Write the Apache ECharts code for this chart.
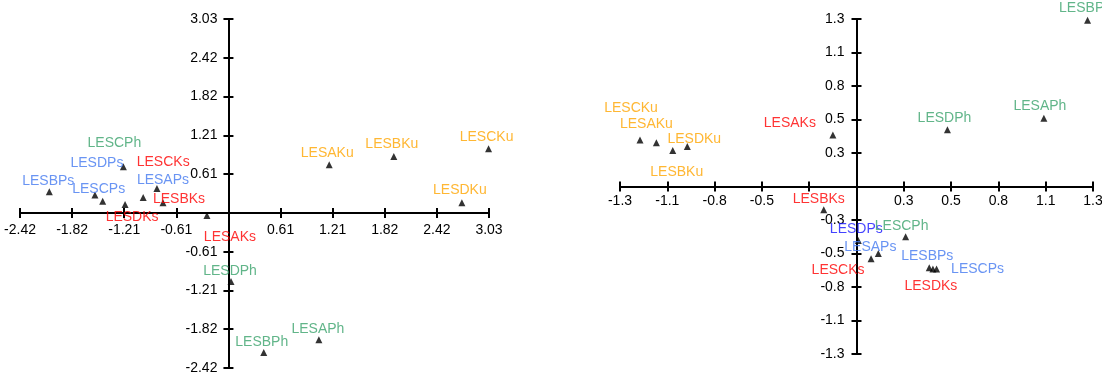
<!DOCTYPE html>
<html><head><meta charset="utf-8">
<script src="https://cdn.jsdelivr.net/npm/echarts@6/dist/echarts.min.js"></script>
<style>html,body{margin:0;padding:0;background:#fff}#c{width:1102px;height:381px}</style>
</head><body><div id="c"></div>
<script>
// ---- data ----
const names  = ['LESAKu','LESBKu','LESCKu','LESDKu','LESAKs','LESBKs','LESCKs','LESDKs',
                'LESAPs','LESBPs','LESCPs','LESDPs','LESAPh','LESBPh','LESCPh','LESDPh'];
const groups = ['Ku','Ku','Ku','Ku','Ks','Ks','Ks','Ks','Ps','Ps','Ps','Ps','Ph','Ph','Ph','Ph'];

const leftX  = [1.17, 1.92, 3.02, 2.71, -0.25, -0.76, -0.99, -1.20, -0.83, -2.08, -1.46, -1.55, 1.05, 0.41, -1.22, 0.03];
const leftY  = [0.75, 0.88, 1.00, 0.16, -0.04, 0.16, 0.24, 0.13, 0.38, 0.33, 0.18, 0.28, -1.98, -2.18, 0.72, -1.07];

const rightX = [-1.10, -1.01, -1.19, -0.93, -0.13, -0.18, 0.08, 0.42, 0.12, 0.40, 0.44, 0.01, 1.03, 1.27, 0.27, 0.50];
const rightY = [0.34, 0.28, 0.36, 0.31, 0.40, -0.18, -0.56, -0.64, -0.52, -0.63, -0.64, -0.42, 0.53, 1.29, -0.39, 0.44];

const leftXTickLabels  = ['-2.42','-1.82','-1.21','-0.61','','0.61','1.21','1.82','2.42','3.03'];
const leftYTickLabels  = ['-2.42','-1.82','-1.21','-0.61','','0.61','1.21','1.82','2.42','3.03'];
const rightXTickLabels = ['-1.3','-1.1','-0.8','-0.5','','','0.3','0.5','0.8','1.1','1.3'];
const rightYTickLabels = ['-1.3','-1.1','-0.8','-0.5','-0.3','','0.3','0.5','0.8','1.1','1.3'];

// ---- label placement (pixels, relative to marker) ----
const leftLabelOffsets = [[-2,-12],[-2,-12],[-2,-12],[-2,-12],[23,22],[16,-3],[20,-35],[7,13],
                          [6,-8],[-1,-11],[-4,-12],[2,-32],[-1,-11],[-2,-10],[-9,-24],[-1,-10]];
const rightLabelOffsets = [[-10,-19],[4,22],[-9,-32],[7,-7],[-43,-12],[-5,-11],[-33,11],[-2,17],
                           [-8,-6],[-2,-12],[41,0],[-2,-11],[-4,-12],[-2,-12],[-4,-11],[-3,-12]];

// ---- styles / layout ----
const FONT = 'Arial, "Liberation Sans", sans-serif';
const groupColors = {Ku:'#FFA500', Ks:'#FF0000', Ps:'#4479F0', Ph:'#3AA36C'};
const rightColorOverride = {LESDPs:'#1414FF'};

const LMIN = -2.42, LSTEP = 0.605, LMAX = 3.025;
const RMIN = -1.3, RSTEP = 0.26, RMAX = 1.3;
const G = [
  {left:20, top:19, width:469, height:349, min:LMIN, max:LMAX, step:LSTEP, xl:leftXTickLabels, yl:leftYTickLabels, xm:10, ym:11},
  {left:620, top:19, width:473, height:335, min:RMIN, max:RMAX, step:RSTEP, xl:rightXTickLabels, yl:rightYTickLabels, xm:8, ym:12}
];

function fmt(labels, min, step){
  return function(v){ const i = Math.round((v - min) / step); return labels[i] != null ? labels[i] : ''; };
}

const xAxes = [], yAxes = [];
G.forEach(function(g, gi){
  const base = {gridIndex:gi, type:'value', min:g.min, max:g.max, interval:g.step, splitLine:{show:false}};
  const lineAxis = function(pos, zeroIdx){
    return Object.assign({}, base, {position:pos,
      axisLine:{show:true, onZero:true, onZeroAxisIndex:zeroIdx, lineStyle:{color:'#000', width:2}},
      axisTick:{show:true, length:5, lineStyle:{color:'#000', width:2}},
      axisLabel:{show:false}});
  };
  const labelAxis = function(pos, offset, margin, labels){
    return Object.assign({}, base, {position:pos, offset:offset,
      axisLine:{show:false, onZero:false}, axisTick:{show:false},
      axisLabel:{show:true, margin:margin, color:'#000', fontSize:14, fontFamily:FONT, formatter:fmt(labels, g.min, g.step)}});
  };
  const zeroY = g.top + g.height * (g.max - 0) / (g.max - g.min);
  const zeroX = g.left + g.width * (0 - g.min) / (g.max - g.min);
  const xi0 = xAxes.length, yi0 = yAxes.length;
  xAxes.push(lineAxis('bottom', yi0), lineAxis('top', yi0), labelAxis('bottom', zeroY - (g.top + g.height), g.xm, g.xl));
  yAxes.push(lineAxis('left', xi0), lineAxis('right', xi0), labelAxis('left', g.left - zeroX, g.ym, g.yl));
});

function series(xs, ys, offs, axisIdx, override){
  return {
    type:'scatter', xAxisIndex:axisIdx, yAxisIndex:axisIdx, symbol:'triangle', symbolSize:7, clip:false, silent:true,
    itemStyle:{color:'#000'},
    label:{show:true, position:[3.5,3.5], align:'center', verticalAlign:'middle', formatter:'{b}', fontSize:14, fontFamily:FONT},
    data: names.map(function(n,i){
      return {name:n, value:[xs[i], ys[i]],
              label:{offset:offs[i], color:(override && override[n]) || groupColors[groups[i]]}};
    })
  };
}

const chart = echarts.init(document.getElementById('c'), null, {renderer:'canvas'});
chart.setOption({
  animation:false,
  backgroundColor:'#fff',
  grid: G.map(function(g){ return {left:g.left, top:g.top, width:g.width, height:g.height, containLabel:false, outerBoundsMode:'none'}; }),
  xAxis: xAxes,
  yAxis: yAxes,
  series:[
    series(leftX, leftY, leftLabelOffsets, 0, null),
    series(rightX, rightY, rightLabelOffsets, 3, rightColorOverride)
  ]
});
</script></body></html>
